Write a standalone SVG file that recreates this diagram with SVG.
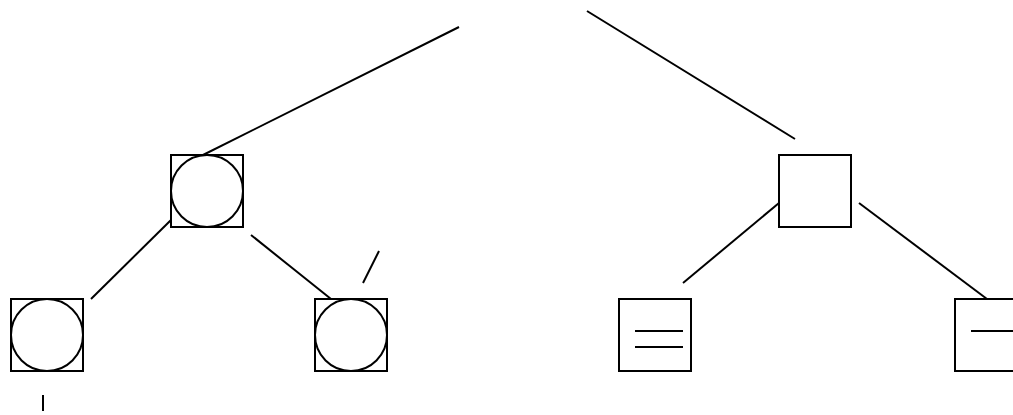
<svg xmlns="http://www.w3.org/2000/svg" width="1013" height="415" viewBox="0 0 1013 415">
<style>
.n{fill:none;stroke:#000;stroke-width:2}
.c{fill:none;stroke:#000;stroke-width:2}
.e{stroke:#000;stroke-width:2;fill:none}
</style>
<rect width="1013" height="415" fill="#fff"/>
<g id="connectors">
<line class="e" x1="459" y1="27" x2="203" y2="155"/>
<line class="e" x1="587" y1="11" x2="795" y2="139"/>
<line class="e" x1="171" y1="220" x2="91" y2="299"/>
<line class="e" x1="251" y1="235" x2="331" y2="299"/>
<line class="e" x1="379" y1="251" x2="363" y2="283"/>
<line class="e" x1="43" y1="395" x2="43" y2="411"/>
<line class="e" x1="779" y1="203" x2="683" y2="283"/>
<line class="e" x1="859" y1="203" x2="987" y2="299"/>
</g>
<g id="node-a">
<rect class="n" x="171" y="155" width="72" height="72"/>
<circle class="c" cx="207" cy="191" r="36"/>
</g>
<g id="node-b">
<rect class="n" x="11" y="299" width="72" height="72"/>
<circle class="c" cx="47" cy="335" r="36"/>
</g>
<g id="node-c">
<rect class="n" x="315" y="299" width="72" height="72"/>
<circle class="c" cx="351" cy="335" r="36"/>
</g>
<g id="node-d">
<rect class="n" x="779" y="155" width="72" height="72"/>
</g>
<g id="node-e">
<rect class="n" x="619" y="299" width="72" height="72"/>
<line class="e" x1="635" y1="331" x2="683" y2="331"/>
<line class="e" x1="635" y1="347" x2="683" y2="347"/>
</g>
<g id="node-f">
<rect class="n" x="955" y="299" width="72" height="72"/>
<line class="e" x1="971" y1="331" x2="1019" y2="331"/>
</g>
</svg>
